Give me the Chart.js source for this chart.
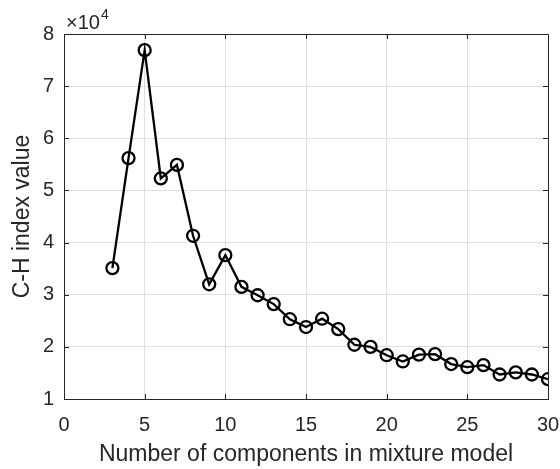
<!DOCTYPE html>
<html>
<head>
<meta charset="utf-8">
<script src="https://cdn.jsdelivr.net/npm/chart.js@4/dist/chart.umd.min.js"></script>
<style>
  html, body { margin: 0; padding: 0; background: #fff; }
  #wrap { width: 560px; height: 469px; position: relative; }
</style>
</head>
<body>
<div id="wrap"><canvas id="chc"></canvas></div>
<script>
// number of components (x) and C-H index values (y)
const components = [3, 4, 5, 6, 7, 8, 9, 10, 11, 12, 13, 14, 15, 16, 17, 18, 19, 20, 21, 22, 23, 24, 25, 26, 27, 28, 29, 30];
const chIndex = [35100, 56200, 76900, 52300, 54900, 41300, 32000, 37600, 31500, 29900, 28200, 25300, 23800, 25400, 23400, 20400, 20000, 18400, 17200, 18500, 18600, 16700, 16100, 16500, 14700, 15100, 14700, 13800];
const xTicks = [0, 5, 10, 15, 20, 25, 30];
const yTicks = [10000, 20000, 30000, 40000, 50000, 60000, 70000, 80000];

const axisColor = "#262626";
const fontFamily = "'Liberation Sans', Arial, Helvetica, sans-serif";

// MATLAB style box with inward tick marks and the x10^4 exponent label
const boxPlugin = {
    id: "boxPlugin",
    afterDraw(chart) {
        const ctx = chart.ctx;
        const a = chart.chartArea;
        const xs = chart.scales.x, ys = chart.scales.y;
        ctx.save();
        ctx.strokeStyle = axisColor;
        ctx.lineWidth = 1;
        ctx.strokeRect(Math.round(a.left) + 0.5, Math.round(a.top) + 0.5,
            Math.round(a.right - a.left), Math.round(a.bottom - a.top));
        const len = 5;
        ctx.beginPath();
        xTicks.forEach(v => {
            const px = Math.round(xs.getPixelForValue(v)) + 0.5;
            ctx.moveTo(px, a.bottom); ctx.lineTo(px, a.bottom - len);
            ctx.moveTo(px, a.top); ctx.lineTo(px, a.top + len);
        });
        yTicks.forEach(v => {
            const py = Math.round(ys.getPixelForValue(v)) + 0.5;
            ctx.moveTo(a.left, py); ctx.lineTo(a.left + len, py);
            ctx.moveTo(a.right, py); ctx.lineTo(a.right - len, py);
        });
        ctx.stroke();

        // exponent label
        ctx.fillStyle = axisColor;
        ctx.textBaseline = "alphabetic";
        ctx.font = "20px " + fontFamily;
        ctx.fillText("\u00d710", a.left + 2, a.top - 5);
        const w = ctx.measureText("\u00d710").width;
        ctx.font = "14px " + fontFamily;
        ctx.fillText("4", a.left + 3 + w, a.top - 15);
        ctx.restore();
    }
};

const ctx = document.getElementById("chc").getContext("2d");
const chChart = new Chart(ctx, {
    type: "line",
    data: {
        datasets: [{
            label: "C-H index",
            data: components.map((c, i) => ({ x: c, y: chIndex[i] })),
            borderColor: "#000",
            borderWidth: 2.3,
            pointRadius: 6,
            pointBorderWidth: 2.3,
            pointBorderColor: "#000",
            pointBackgroundColor: "rgba(0,0,0,0)",
            tension: 0
        }]
    },
    options: {
        responsive: true,
        maintainAspectRatio: false,
        animation: false,
        layout: { padding: { top: 34, right: 12, left: 0, bottom: 0 } },
        plugins: {
            legend: { display: false },
            tooltip: { enabled: false }
        },
        scales: {
            x: {
                type: "linear",
                min: 0,
                max: 30,
                afterBuildTicks: scale => { scale.ticks = xTicks.map(v => ({ value: v })); },
                afterFit: scale => {
                    scale.height = 70;
                    scale.paddingLeft = 0;
                    scale.paddingRight = 0;
                },
                grid: { color: "#dfdfdf", drawTicks: false },
                border: { display: false },
                ticks: {
                    padding: 14,
                    color: axisColor,
                    font: { size: 20, family: fontFamily }
                },
                title: {
                    display: true,
                    text: "Number of components in mixture model",
                    color: axisColor,
                    font: { size: 23, family: fontFamily },
                    padding: { top: 0, bottom: 1 }
                }
            },
            y: {
                type: "linear",
                min: 10000,
                max: 80000,
                afterBuildTicks: scale => { scale.ticks = yTicks.map(v => ({ value: v })); },
                afterFit: scale => {
                    scale.width = 64;
                    scale.paddingTop = 0;
                    scale.paddingBottom = 0;
                },
                grid: { color: "#dfdfdf", drawTicks: false },
                border: { display: false },
                ticks: {
                    padding: 10,
                    color: axisColor,
                    font: { size: 20, family: fontFamily },
                    callback: v => v / 10000
                },
                title: {
                    display: true,
                    text: "C-H index value",
                    color: axisColor,
                    font: { size: 23, family: fontFamily },
                    padding: { top: 9, bottom: 0 }
                }
            }
        }
    },
    plugins: [boxPlugin]
});
</script>
</body>
</html>
